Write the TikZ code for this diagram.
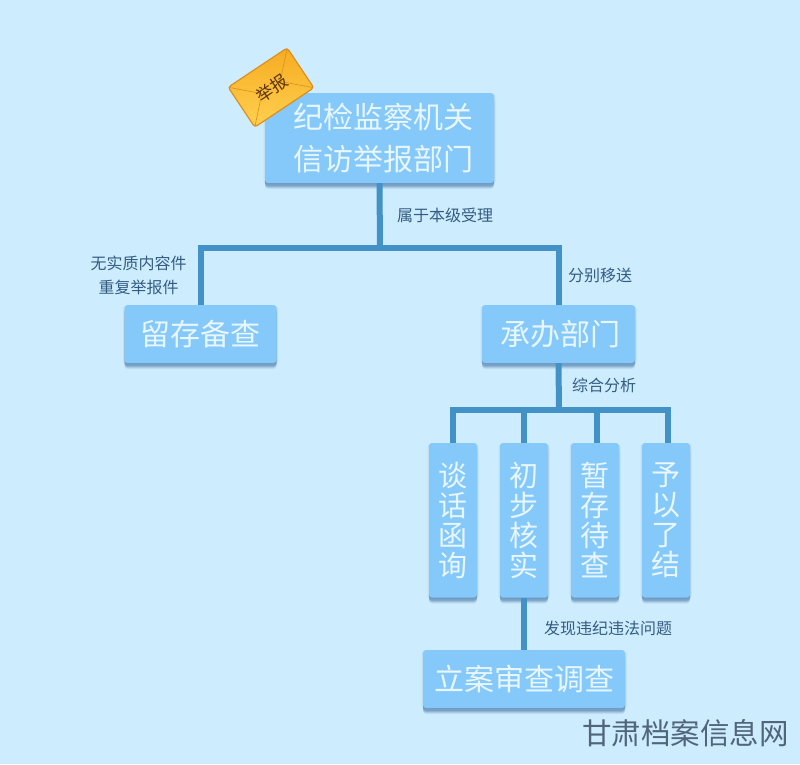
\documentclass[tikz,border=0pt]{standalone}
\usepackage{fontspec}
\setmainfont{Noto Sans CJK SC}
\usetikzlibrary{shadows,calc}
\definecolor{bgc}{RGB}{205,236,254}
\definecolor{boxc}{RGB}{132,201,250}
\definecolor{linec}{RGB}{66,146,200}
\definecolor{lab}{RGB}{52,92,130}
\definecolor{boxt}{RGB}{232,246,255}
\definecolor{wm}{RGB}{82,102,122}
\definecolor{shc}{RGB}{60,110,160}
\definecolor{envtop}{RGB}{255,208,80}
\definecolor{envbot}{RGB}{246,172,34}
\definecolor{envedge}{RGB}{222,142,28}
\definecolor{envtext}{RGB}{92,52,12}
\tikzset{
  x=1pt,y=-1pt,
  softshade/.style={shadow xshift=0pt,fill=shc},
  box/.style={fill=boxc,rounded corners=3pt,text=boxt,inner sep=0pt,align=center,
    font=\fontsize{30}{42}\selectfont,
    general shadow={softshade,shadow yshift=-6pt,opacity=.10},
    general shadow={softshade,shadow yshift=-5pt,opacity=.16},
    general shadow={softshade,shadow yshift=-4pt,opacity=.22},
    general shadow={softshade,shadow yshift=-3pt,opacity=.28},
    general shadow={softshade,shadow xshift=1.5pt,shadow yshift=-1pt,opacity=.10},
    general shadow={softshade,shadow xshift=-1.5pt,shadow yshift=-1pt,opacity=.10}},
  tall/.style={box,minimum width=48pt,minimum height=154.5pt,font=\fontsize{29}{30}\selectfont},
  wide/.style={box,minimum width=152pt,minimum height=58pt},
  conn/.style={draw=linec,line width=6pt,line cap=butt,line join=miter},
  lbl/.style={text=lab,inner sep=0pt,align=center,font=\fontsize{16}{24}\selectfont},
}
\begin{document}
\begin{tikzpicture}
\useasboundingbox (0,0) rectangle (800,764);
\fill[bgc] (0,0) rectangle (800,764);
\coordinate (j1) at (380,248);
\coordinate (j2) at (559,410);
\node[box,minimum width=229pt,minimum height=90pt] (top) at (379.5,138) {\hspace*{7pt}纪检监察机关\\\hspace*{7pt}信访举报部门};
\node[wide] (keep) at (200.5,334) {留存备查};
\node[wide,minimum width=153pt] (cb) at (558.5,334) {\hspace*{3pt}承办部门};
\node[tall] (t1) at (453,520.25) {谈\\话\\函\\询};
\node[tall] (t2) at (524,520.25) {初\\步\\核\\实};
\node[tall] (t3) at (595,520.25) {暂\\存\\待\\查};
\node[tall] (t4) at (666,520.25) {予\\以\\了\\结};
\node[box,minimum width=202pt,minimum height=58pt] (case) at (524,679) {立案审查调查};
\coordinate (d3) at ($(t3.north)+(2,0)$);
\coordinate (d4) at ($(t4.north)+(2,0)$);
\begin{scope}[on background layer/.style={}]
\draw[conn] (top.south) -- (j1);
\draw[conn] (keep.north) |- (j1) -| (cb.north);
\draw[conn] (cb.south) -- (j2);
\draw[conn] (t1.north) |- (j2) -| (d4);
\draw[conn] (t2.north) -- (t2.north |- j2);
\draw[conn] (d3) -- (d3 |- j2);
\draw[conn] (t2.south) -- (case.north);
\end{scope}
% envelope
\begin{scope}[shift={(271,87.5)},rotate=33.7]
  \shade[rounded corners=3pt,top color=envbot,bottom color=envtop,draw=envedge,line width=1.2pt]
    (-35.5,-24) rectangle (35.5,24);
  \draw[envedge,line width=.6pt]
    (-35,-23.5) -- (-11,0) -- (-35,23.5)
    (35,-23.5) -- (11,0) -- (35,23.5);
  \node[text=envtext,inner sep=0pt,rotate=33.7,font=\fontsize{17}{17}\selectfont] (env) at (0,1) {举报};
\end{scope}
\node[lbl,anchor=west] (l1) at (397,215) {属于本级受理};
\node[lbl,anchor=west] (l2) at (568,275) {分别移送};
\node[lbl] (l3) at (138.5,275) {无实质内容件\\重复举报件};
\node[lbl,anchor=west] (l4) at (572,385) {综合分析};
\node[lbl,anchor=west] (l5) at (544,628) {发现违纪违法问题};
\node[text=wm,inner sep=0pt,anchor=west,font=\fontsize{29.5}{30}\selectfont] (wmk) at (582,733) {甘肃档案信息网};
\end{tikzpicture}
\end{document}
